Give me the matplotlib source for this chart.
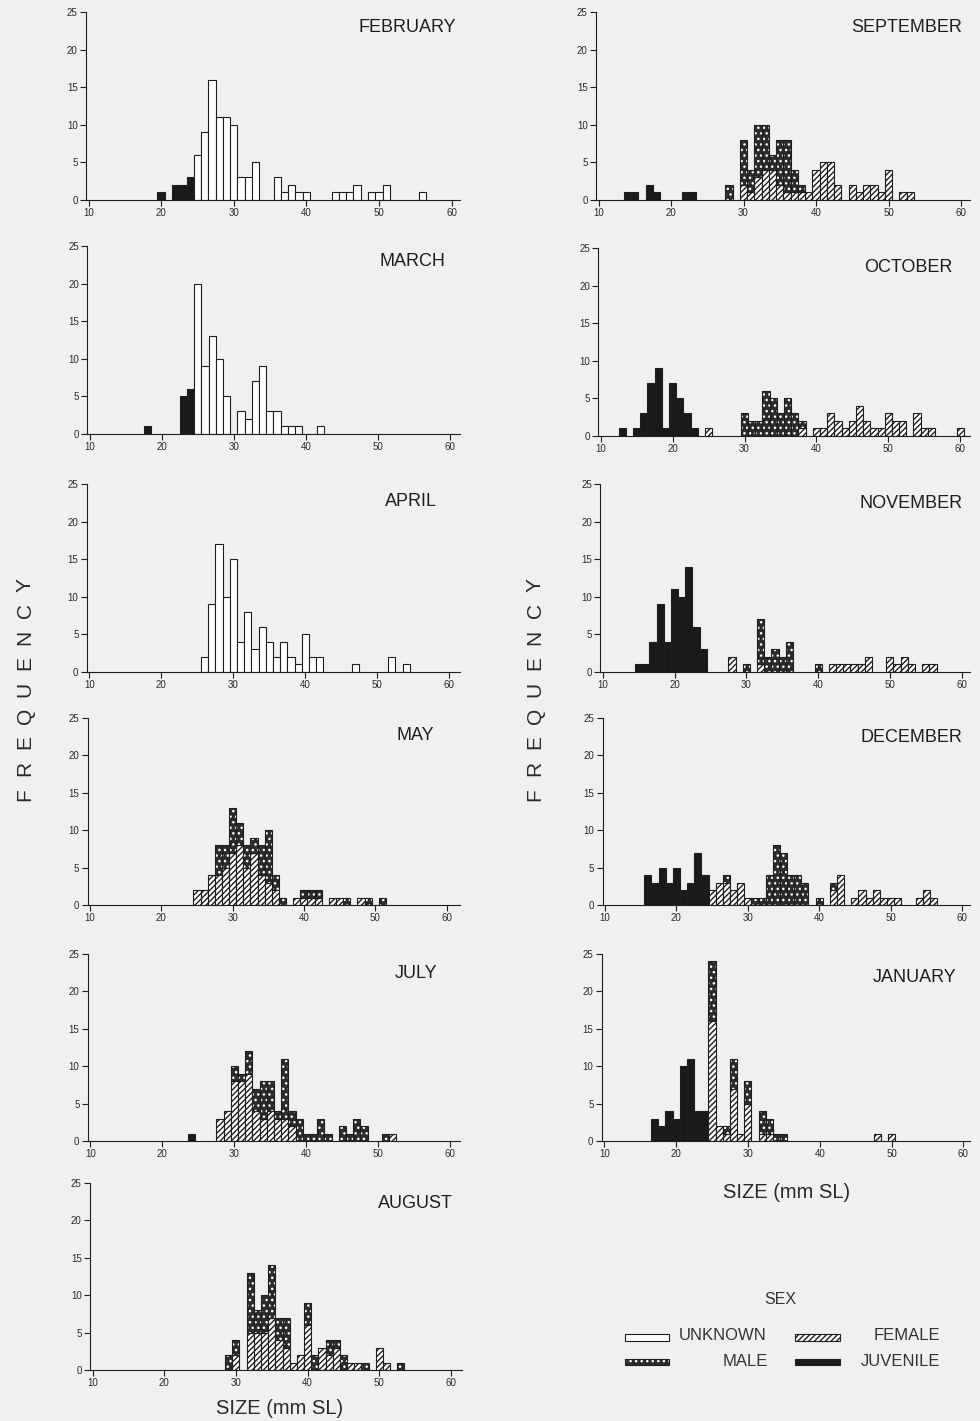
import matplotlib
matplotlib.use("Agg")
import matplotlib.pyplot as plt
from matplotlib.patches import Rectangle

plt.rcParams["font.family"] = ["Liberation Sans", "DejaVu Sans"]
plt.rcParams["hatch.linewidth"] = 1.0

# ---------------- data (size mm SL -> frequency) ----------------
feb_juvenile = {20: 1, 22: 2, 23: 2, 24: 3}
feb_unknown = {25: 6, 26: 9, 27: 16, 28: 11, 29: 11, 30: 10, 31: 3, 32: 3, 33: 5, 36: 3, 37: 1,
               38: 2, 39: 1, 40: 1, 44: 1, 45: 1, 46: 1, 47: 2, 49: 1, 50: 1, 51: 2, 56: 1}

mar_juvenile = {18: 1, 23: 5, 24: 6}
mar_unknown = {25: 20, 26: 9, 27: 13, 28: 10, 29: 5, 31: 3, 32: 2, 33: 7, 34: 9, 35: 3, 36: 3,
               37: 1, 38: 1, 39: 1, 42: 1}

apr_unknown = {26: 2, 27: 9, 28: 17, 29: 10, 30: 15, 31: 4, 32: 8, 33: 3, 34: 6, 35: 4, 36: 2,
               37: 4, 38: 2, 39: 1, 40: 5, 41: 2, 42: 2, 47: 1, 52: 2, 54: 1}

may_female = {25: 2, 26: 2, 27: 4, 28: 4, 29: 5, 30: 7, 31: 8, 32: 5, 33: 7, 34: 4, 35: 3, 36: 2,
              39: 1, 40: 1, 41: 1, 42: 1, 44: 1, 45: 1, 48: 1}
may_male = {28: 4, 29: 3, 30: 6, 31: 3, 32: 3, 33: 2, 34: 4, 35: 7, 36: 2, 37: 1, 40: 1, 41: 1,
            42: 1, 46: 1, 49: 1, 51: 1}

jul_juvenile = {24: 1}
jul_female = {28: 3, 29: 4, 30: 8, 31: 8, 32: 9, 33: 4, 34: 3, 35: 4, 36: 3, 37: 3, 38: 2, 52: 1}
jul_male = {30: 2, 31: 1, 32: 3, 33: 3, 34: 5, 35: 4, 36: 1, 37: 8, 38: 2, 39: 3, 40: 1, 41: 1,
            42: 3, 43: 1, 45: 2, 46: 1, 47: 3, 48: 2, 51: 1}

aug_female = {30: 2, 32: 5, 33: 5, 34: 5, 35: 7, 36: 4, 37: 3, 38: 1, 39: 2, 40: 6, 42: 3, 43: 2,
              44: 3, 46: 1, 47: 1, 50: 3, 51: 1}
aug_male = {29: 2, 30: 2, 32: 8, 33: 3, 34: 5, 35: 7, 36: 3, 37: 4, 40: 3, 41: 2, 43: 2, 44: 1,
            45: 2, 48: 1, 53: 1}

sep_juvenile = {14: 1, 15: 1, 17: 2, 18: 1, 22: 1, 23: 1}
sep_female = {30: 2, 31: 1, 32: 3, 33: 4, 34: 4, 35: 2, 36: 1, 37: 1, 38: 1, 39: 1, 40: 4, 41: 5,
              42: 5, 43: 2, 45: 2, 46: 1, 47: 2, 48: 2, 49: 1, 50: 4, 52: 1, 53: 1}
sep_male = {28: 2, 30: 6, 31: 3, 32: 7, 33: 6, 34: 2, 35: 6, 36: 7, 37: 3, 38: 1}

oct_juvenile = {13: 1, 15: 1, 16: 3, 17: 7, 18: 9, 19: 1, 20: 7, 21: 5, 22: 3, 23: 1}
oct_female = {25: 1, 38: 1, 40: 1, 41: 1, 42: 3, 43: 2, 44: 1, 45: 2, 46: 4, 47: 2, 48: 1, 49: 1,
              50: 3, 51: 2, 52: 2, 54: 3, 55: 1, 56: 1, 60: 1}
oct_male = {30: 3, 31: 2, 32: 2, 33: 6, 34: 5, 35: 3, 36: 5, 37: 3, 38: 1}

nov_juvenile = {15: 1, 16: 1, 17: 4, 18: 9, 19: 4, 20: 11, 21: 10, 22: 14, 23: 6, 24: 3}
nov_female = {28: 2, 32: 1, 42: 1, 43: 1, 44: 1, 45: 1, 46: 1, 47: 2, 50: 2, 51: 1, 52: 2, 53: 1,
              55: 1, 56: 1}
nov_male = {30: 1, 32: 6, 33: 2, 34: 3, 35: 2, 36: 4, 40: 1}

dec_juvenile = {16: 4, 17: 3, 18: 5, 19: 3, 20: 5, 21: 2, 22: 3, 23: 7, 24: 4}
dec_female = {25: 2, 26: 3, 27: 3, 28: 2, 29: 3, 30: 1, 42: 2, 43: 4, 45: 1, 46: 2, 47: 1, 48: 2,
              49: 1, 50: 1, 51: 1, 54: 1, 55: 2, 56: 1}
dec_male = {27: 1, 31: 1, 32: 1, 33: 4, 34: 8, 35: 7, 36: 4, 37: 4, 38: 3, 40: 1, 42: 1}

jan_juvenile = {17: 3, 18: 2, 19: 4, 20: 3, 21: 10, 22: 11, 23: 4, 24: 4}
jan_female = {25: 16, 26: 2, 27: 1, 28: 7, 29: 1, 30: 5, 32: 1, 33: 1, 48: 1, 50: 1}
jan_male = {25: 8, 27: 1, 28: 4, 30: 3, 32: 3, 33: 2, 34: 1, 35: 1}

x_ticks = [10, 20, 30, 40, 50, 60]
y_ticks = [0, 5, 10, 15, 20, 25]
legend_labels = ["UNKNOWN", "FEMALE", "MALE", "JUVENILE"]

panels = [
    ("FEBRUARY", {"juvenile": feb_juvenile, "unknown": feb_unknown}),
    ("MARCH", {"juvenile": mar_juvenile, "unknown": mar_unknown}),
    ("APRIL", {"unknown": apr_unknown}),
    ("MAY", {"female": may_female, "male": may_male}),
    ("JULY", {"juvenile": jul_juvenile, "female": jul_female, "male": jul_male}),
    ("AUGUST", {"female": aug_female, "male": aug_male}),
    ("SEPTEMBER", {"juvenile": sep_juvenile, "female": sep_female, "male": sep_male}),
    ("OCTOBER", {"juvenile": oct_juvenile, "female": oct_female, "male": oct_male}),
    ("NOVEMBER", {"juvenile": nov_juvenile, "female": nov_female, "male": nov_male}),
    ("DECEMBER", {"juvenile": dec_juvenile, "female": dec_female, "male": dec_male}),
    ("JANUARY", {"juvenile": jan_juvenile, "female": jan_female, "male": jan_male}),
]

# ---------------- layout (pixels) ----------------
W, H = 980, 1421
# px of x=10, px per mm, y pixel of 0, y pixel of 25, right end px, title centre x, title y
layout = [
    (88.5, 7.26, 200, 12, 460, 407, 27),
    (89.7, 7.20, 434, 246, 460, 412, 262),
    (89.3, 7.20, 672, 484, 460, 411, 501),
    (90.0, 7.13, 905, 718, 460, 415, 736),
    (90.3, 7.20, 1141, 954, 460, 416, 973),
    (92.5, 7.17, 1370, 1183, 462, 415, 1203),
    (598.5, 7.25, 200, 12, 970, 907, 27),
    (600.7, 7.19, 436, 248, 970, 908, 267),
    (602.7, 7.18, 672, 484, 970, 911, 504),
    (605.0, 7.14, 905, 718, 970, 911, 738),
    (604.3, 7.18, 1141, 954, 970, 915, 977),
]

BG = "#f0f0f0"
INK = "#1e1e1e"
TXT = "#2a2a2a"
FEM_HATCH = "//////"
MALE_HATCH = "..."
fig = plt.figure(figsize=(W / 100, H / 100), dpi=100, facecolor=BG)

overlay = fig.add_axes([0, 0, 1, 1])
overlay.set_xlim(0, W)
overlay.set_ylim(H, 0)
overlay.axis("off")


def draw_cat(ax, d, bottoms, cat):
    xs = sorted(d)
    hs = [d[x] for x in xs]
    bs = [bottoms.get(x, 0) for x in xs]
    if cat == "juvenile":
        ax.bar(xs, hs, width=1.0, bottom=bs, color="#1a1a1a", edgecolor=INK, linewidth=0.8)
    elif cat == "unknown":
        ax.bar(xs, hs, width=1.0, bottom=bs, color="white", edgecolor=INK, linewidth=0.8)
    elif cat == "female":
        ax.bar(xs, hs, width=1.0, bottom=bs, color="white", edgecolor=INK, linewidth=0.8,
               hatch=FEM_HATCH)
    elif cat == "male":
        ax.bar(xs, hs, width=1.0, bottom=bs, color="#2b2b2b", edgecolor="white", linewidth=0,
               hatch=MALE_HATCH)
        ax.bar(xs, hs, width=1.0, bottom=bs, fill=False, edgecolor=INK, linewidth=0.8)
    for x, h in zip(xs, hs):
        bottoms[x] = bottoms.get(x, 0) + h


for (title, data), (px10, s, y0, y25, xend, tx, ty) in zip(panels, layout):
    spine_x = px10 - 2.5
    xlo = 10 - (px10 - spine_x) / s
    xhi = 10 + (xend - px10) / s
    ax = fig.add_axes([spine_x / W, 1 - y0 / H, (xend - spine_x) / W, (y0 - y25) / H])
    ax.set_facecolor("none")
    ax.set_xlim(xlo, xhi)
    ax.set_ylim(0, 25)
    bottoms = {}
    for cat in ["juvenile", "unknown", "female", "male"]:
        if cat in data:
            draw_cat(ax, data[cat], bottoms, cat)
    for side in ["top", "right"]:
        ax.spines[side].set_visible(False)
    for side in ["left", "bottom"]:
        ax.spines[side].set_color(INK)
        ax.spines[side].set_linewidth(0.8)
    ax.set_xticks(x_ticks)
    ax.set_yticks(y_ticks)
    ax.tick_params(axis="both", labelsize=7, colors=INK, labelcolor=TXT, width=0.8,
                   length=4, pad=2)
    overlay.text(tx, ty, title, ha="center", va="center", fontsize=13, color=INK)

# axis labels
for xc in (25, 535):
    for i, ch in enumerate("FREQUENCY"):
        overlay.text(xc, 795 - i * 26.3, ch, rotation=90, ha="center", va="center",
                     fontsize=15, color=TXT)
overlay.text(280, 1409, "SIZE (mm SL)", ha="center", va="center", fontsize=14.5, color=TXT)
overlay.text(787, 1192, "SIZE (mm SL)", ha="center", va="center", fontsize=14.5, color=TXT)

# legend
overlay.text(780, 1300, "SEX", ha="center", va="center", fontsize=11.5, color="#333333")
overlay.add_patch(Rectangle((625, 1334), 44, 7, facecolor="white", edgecolor=INK, lw=0.8))
overlay.add_patch(Rectangle((795, 1334), 45, 7, facecolor="white", edgecolor=INK, lw=0.8,
                            hatch=FEM_HATCH))
overlay.add_patch(Rectangle((625, 1359), 44, 6, facecolor="#2b2b2b", edgecolor="white", lw=0,
                            hatch=MALE_HATCH))
overlay.add_patch(Rectangle((625, 1359), 44, 6, fill=False, edgecolor=INK, lw=0.8))
overlay.add_patch(Rectangle((795, 1359), 45, 6, facecolor="#1a1a1a", edgecolor=INK, lw=0.8))
overlay.text(679, 1336, legend_labels[0], ha="left", va="center", fontsize=12, color="#333333")
overlay.text(940, 1336, legend_labels[1], ha="right", va="center", fontsize=12, color="#333333")
overlay.text(768, 1362, legend_labels[2], ha="right", va="center", fontsize=12, color="#333333")
overlay.text(940, 1362, legend_labels[3], ha="right", va="center", fontsize=12, color="#333333")

fig.savefig("out.png", dpi=100, facecolor=BG)
